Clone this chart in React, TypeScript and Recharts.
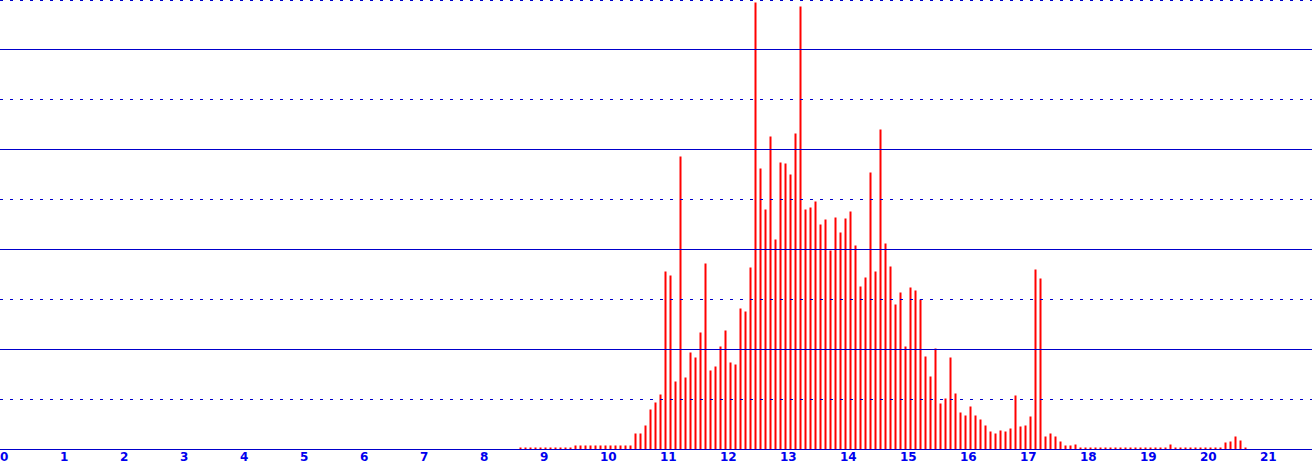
import { BarChart, Bar, XAxis, YAxis, ReferenceLine } from "recharts";

// bins are 1/12 of an x-unit wide, first drawn bin is #104 (x = 8.667)
const firstBin = 104;
const binsPerUnit = 12;

const counts: number[] = [
  // 104 - 114
  2, 2, 2, 2, 2, 2, 2, 2, 2, 2, 2,
  // 115 - 126
  4, 4, 4, 4, 4, 4, 4, 4, 4, 4, 4, 4,
  // 127 - 143
  16, 16, 24, 40, 47, 55, 178, 174, 68, 293, 72, 97, 92, 117, 186, 79, 83,
  // 144 - 159
  103, 119, 87, 85, 141, 138, 182, 447, 281, 240, 313, 210, 287, 286, 275, 316,
  // 160 - 175
  443, 240, 242, 248, 225, 230, 199, 232, 217, 231, 238, 204, 163, 172, 277, 178,
  // 176 - 191
  320, 206, 183, 145, 157, 103, 162, 159, 150, 93, 73, 101, 46, 51, 92, 56,
  // 192 - 208
  37, 34, 43, 34, 30, 24, 18, 16, 19, 18, 21, 54, 23, 24, 33, 180, 171,
  // 209 - 215
  13, 16, 13, 8, 4, 4, 5,
  // 216 - 233
  2, 2, 2, 2, 2, 2, 2, 2, 2, 2, 2, 2, 2, 2, 2, 2, 2, 2,
  // 234 - 244
  5, 2, 2, 2, 2, 2, 2, 2, 2, 2, 2,
  // 245 - 249
  7, 8, 13, 9, 2,
];

const xTicks = [0, 1, 2, 3, 4, 5, 6, 7, 8, 9, 10, 11, 12, 13, 14, 15, 16, 17, 18, 19, 20, 21];
const solidLines = [100, 200, 300, 400];
const dottedLines = [50, 150, 250, 350];
const yMax = 450;

const data = counts.map((count, i) => ({
  x: (firstBin + i) / binsPerUnit,
  count,
}));

const BLUE = "#0000cc";

function XTick({ x, y, payload }: any) {
  return (
    <text
      x={x - 1}
      y={y + 11.5}
      textAnchor="start"
      fill="#0000ee"
      fontSize={12}
      fontWeight="bold"
      fontFamily="DejaVu Sans"
    >
      {payload.value}
    </text>
  );
}

export default function App() {
  const width = 1312;
  const height = 469;
  return (
    <div style={{ position: "absolute", left: 0, top: 0, width, height, background: "#fff" }}>
      <BarChart
        width={width}
        height={height}
        data={data}
        margin={{ top: -0.5, right: 0, bottom: 0, left: 0 }}
        barSize={2}
      >
        <XAxis
          dataKey="x"
          type="number"
          domain={[-1 / 60, (width - 1) / 60]}
          ticks={xTicks}
          interval={0}
          height={19.5}
          tickLine={false}
          tickSize={0}
          tickMargin={0}
          axisLine={{ stroke: BLUE, strokeWidth: 1 }}
          tick={<XTick />}
          allowDataOverflow
        />
        <YAxis hide domain={[0, yMax]} allowDataOverflow />
        {solidLines.map((v) => (
          <ReferenceLine key={`s-${v}`} y={v} stroke={BLUE} strokeWidth={1} />
        ))}
        {dottedLines.map((v) => (
          <ReferenceLine
            key={`d-${v}`}
            y={v}
            stroke={BLUE}
            strokeWidth={1}
            strokeDasharray="3 7"
          />
        ))}
        <ReferenceLine
          y={yMax}
          stroke={BLUE}
          strokeWidth={3}
          strokeDasharray="3 7"
          ifOverflow="visible"
        />
        <Bar dataKey="count" fill="#ff0000" isAnimationActive={false} />
      </BarChart>
    </div>
  );
}
